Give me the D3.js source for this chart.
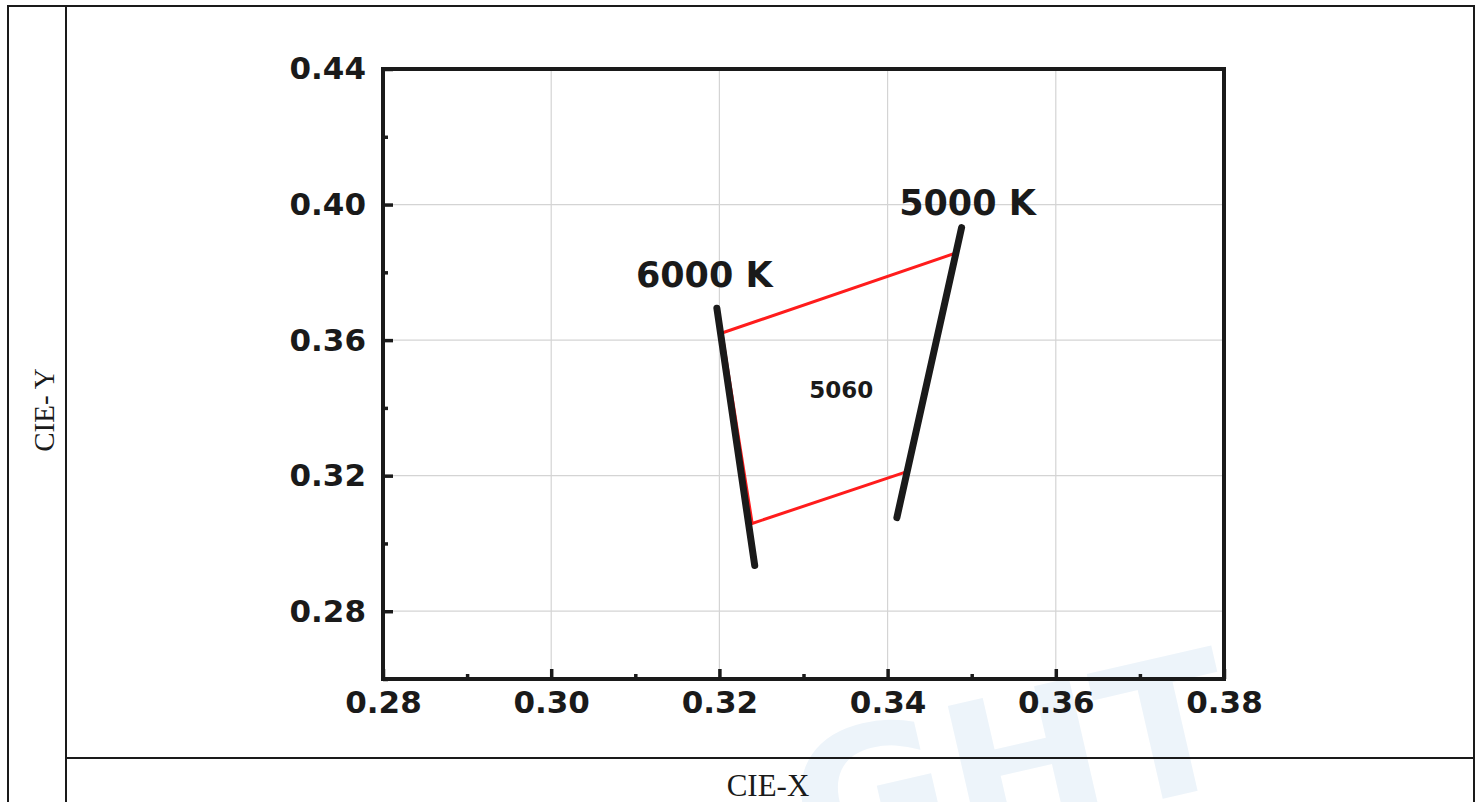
<!DOCTYPE html>
<html>
<head>
<meta charset="utf-8">
<script src="https://cdn.jsdelivr.net/npm/d3@7"></script>
<style>
  body { margin: 0; background: #fff; }
  svg { display: block; }
</style>
</head>
<body>
<div id="wrapper"></div>
<script>
// Tick values
var xMajor = [0.28, 0.30, 0.32, 0.34, 0.36, 0.38];
var xMinor = [0.29, 0.31, 0.33, 0.35, 0.37];
var yMajor = [0.28, 0.32, 0.36, 0.40, 0.44];
var yMinor = [0.26, 0.30, 0.34, 0.38, 0.42];

// Isotherm lines (CIE x, y)
var iso6000X = [0.3197, 0.3242];
var iso6000Y = [0.3694, 0.2935];
var iso5000X = [0.3488, 0.3411];
var iso5000Y = [0.3932, 0.3076];

// Red quadrangle corners
var boxX = [0.3203, 0.3480, 0.3423, 0.3239];
var boxY = [0.3621, 0.3856, 0.3212, 0.3059];

// Labels
var labelText = ["6000 K", "5000 K", "5060"];
var labelX = [0.3182, 0.3495, 0.3345];
var labelY = [0.3757, 0.3968, 0.3429];

var W = 1482, H = 802;
var margin = { top: 69, right: 258, bottom: 123, left: 383 },
  width = W - margin.left - margin.right,
  height = H - margin.top - margin.bottom;

var root = d3.select("#wrapper")
  .append("svg")
  .attr("width", W)
  .attr("height", H);

// faint watermark
root.append("text")
  .attr("transform", "translate(810,880) rotate(-13)")
  .attr("fill", "#edf4fa")
  .style("font-family", "DejaVu Sans")
  .style("font-weight", "bold")
  .style("font-size", "190px")
  .text("GHT");

// table frame
var frame = root.append("g")
  .attr("fill", "none")
  .attr("stroke", "#1a1a1a")
  .attr("stroke-width", 2);
frame.append("rect").attr("x", 8).attr("y", 6).attr("width", 1466).attr("height", 810);
frame.append("line").attr("x1", 66).attr("x2", 66).attr("y1", 6).attr("y2", 802);
frame.append("line").attr("x1", 66).attr("x2", 1474).attr("y1", 758).attr("y2", 758);

root.append("text")
  .attr("transform", "translate(54,410) rotate(-90)")
  .attr("text-anchor", "middle")
  .attr("fill", "#1a1a1a")
  .style("font-family", "Liberation Serif")
  .style("font-size", "29px")
  .text("CIE- Y");

root.append("text")
  .attr("x", 768)
  .attr("y", 796)
  .attr("text-anchor", "middle")
  .attr("fill", "#1a1a1a")
  .style("font-family", "Liberation Serif")
  .style("font-size", "31px")
  .text("CIE-X");

var svg = root.append("g")
  .attr("transform", "translate(" + margin.left + "," + margin.top + ")");

var x = d3.scaleLinear().domain([0.28, 0.38]).range([0, width]);
var y = d3.scaleLinear().domain([0.26, 0.44]).range([height, 0]);

// grid
svg.append("g")
  .selectAll("line")
  .data(xMajor.slice(1, -1))
  .enter()
  .append("line")
  .attr("x1", d => x(d)).attr("x2", d => x(d))
  .attr("y1", 0).attr("y2", height)
  .attr("stroke", "#d4d4d4").attr("stroke-width", 1.2);
svg.append("g")
  .selectAll("line")
  .data(yMajor.slice(0, -1))
  .enter()
  .append("line")
  .attr("y1", d => y(d)).attr("y2", d => y(d))
  .attr("x1", 0).attr("x2", width)
  .attr("stroke", "#d4d4d4").attr("stroke-width", 1.2);

// red quadrangle
var pts = boxX.map((d, i) => [x(d), y(boxY[i])]);
svg.append("path")
  .attr("d", d3.line()(pts) + "Z")
  .attr("fill", "none")
  .attr("stroke", "#ff1c1c")
  .attr("stroke-width", 3);

// isotherms
var isoLine = d3.line();
[[iso6000X, iso6000Y], [iso5000X, iso5000Y]].forEach(function (s) {
  svg.append("path")
    .attr("d", isoLine(s[0].map((d, i) => [x(d), y(s[1][i])])))
    .attr("fill", "none")
    .attr("stroke", "#1a1a1a")
    .attr("stroke-width", 7)
    .attr("stroke-linecap", "round");
});

// labels
svg.append("g")
  .selectAll("text")
  .data(labelText)
  .enter()
  .append("text")
  .attr("x", (d, i) => x(labelX[i]))
  .attr("y", (d, i) => y(labelY[i]))
  .attr("text-anchor", "middle")
  .attr("fill", "#1a1a1a")
  .style("font-family", "DejaVu Sans")
  .style("font-weight", "bold")
  .style("font-size", (d, i) => i < 2 ? "35px" : "23px")
  .text(d => d);

// axes
function styleAxis(g) {
  g.select(".domain").remove();
  g.selectAll(".tick line").attr("stroke", "#1a1a1a").attr("stroke-width", 3.5);
  g.selectAll(".tick text")
    .attr("fill", "#1a1a1a")
    .style("font-family", "DejaVu Sans")
    .style("font-weight", "bold")
    .style("font-size", "31px");
}

svg.append("g")
  .attr("transform", "translate(0," + height + ")")
  .call(d3.axisBottom(x).tickValues(xMajor).tickSize(-10).tickPadding(12).tickFormat(d3.format(".2f")))
  .call(styleAxis);
svg.append("g")
  .attr("transform", "translate(0," + height + ")")
  .call(d3.axisBottom(x).tickValues(xMinor).tickSize(-5).tickFormat(""))
  .call(styleAxis);
svg.append("g")
  .call(d3.axisLeft(y).tickValues(yMajor).tickSize(-10).tickPadding(17).tickFormat(d3.format(".2f")))
  .call(styleAxis);
svg.append("g")
  .call(d3.axisLeft(y).tickValues(yMinor).tickSize(-5).tickFormat(""))
  .call(styleAxis);

// plot box
svg.append("rect")
  .attr("width", width)
  .attr("height", height)
  .attr("fill", "none")
  .attr("stroke", "#1a1a1a")
  .attr("stroke-width", 4);
</script>
</body>
</html>
